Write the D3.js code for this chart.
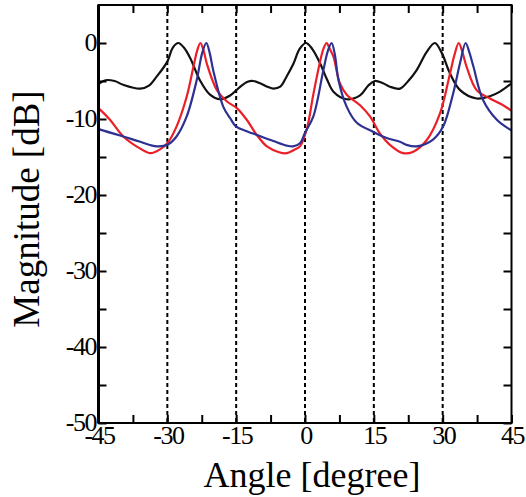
<!DOCTYPE html>
<html><head><meta charset="utf-8">
<script src="https://cdn.jsdelivr.net/npm/d3@7"></script>
<style>
@font-face{font-family:"ChartSerif";src:local("Liberation Serif"),local("LiberationSerif"),local("LiberationSerif-Regular");}
body{margin:0}
</style>
</head><body>
<svg id="c" width="526" height="497" style="font-family:'Liberation Serif', ChartSerif, monospace"></svg>
<script>
// Data (angle [degree], magnitude [dB])
const blackAngles = [-45,-43.5,-41.5,-39.6,-35.9,-34,-32.3,-30,-28.8,-27.6,-26.4,-25,-22.9,-20.7,-18.5,-16.3,-14.2,-12.5,-11.3,-9.8,-8,-6.9,-5.4,-4,-2.5,-1.2,0.2,1.6,3.3,4.8,6.2,9.1,12,13.8,15.2,17,18.5,20.7,22.5,24.3,26.5,28.3,29.8,31.6,33.8,37.4,40.3,42.5,45];
const blackValues = [-5.4,-4.9,-5.0,-5.5,-6.0,-5.6,-4.4,-2.45,-0.6,0,-0.6,-2.0,-4.9,-6.8,-7.4,-6.9,-5.8,-5.1,-5.0,-5.3,-5.8,-6.0,-5.75,-4.4,-2.7,-0.8,0,-0.8,-2.7,-4.8,-6.4,-7.4,-6.9,-5.6,-5.0,-5.3,-5.75,-6.0,-5.0,-3.6,-1.2,0,-1.3,-4.0,-6.2,-7.3,-7.0,-6.4,-5.3];

const redAngles = [-45,-44.6,-42.5,-39.6,-35.9,-33.7,-31.6,-30,-28,-25.8,-24.3,-23.5,-22.8,-22.1,-21.4,-19.2,-17,-14.8,-12.7,-10.5,-8.3,-5.5,-4,-2.5,-1.1,0.4,1.8,3.3,4.0,4.7,5.4,6.2,7.6,9.1,12,14.2,16.3,18.5,21.4,23.6,26.5,29.4,31.6,32.6,33.5,34.3,35.2,37.4,40.3,42.6,45];
const redValues = [-8.6,-8.8,-10.1,-12.3,-13.9,-14.5,-14.0,-13.2,-11.0,-7.1,-3.1,-1.0,0,-1.0,-2.7,-6.2,-7.7,-8.6,-10.1,-12.1,-13.6,-14.4,-14.5,-14.1,-13.6,-11.3,-6.8,-2.4,-0.8,0,-0.8,-1.8,-5.3,-6.8,-8.2,-9.7,-11.9,-13.4,-14.5,-14.3,-12.8,-9.3,-4.0,-1.5,0,-1.2,-3.1,-6.2,-7.3,-8.0,-8.9];

const blueAngles = [-45,-44.6,-39.6,-35.9,-32.3,-30,-28,-25.8,-23.6,-22.4,-21.5,-20.7,-20,-17.8,-16.3,-15,-12.7,-10.5,-6.9,-4,-2.6,-1.1,0,1.8,4.0,5.0,5.8,6.5,7.3,9.1,11.3,14.9,17.8,20.7,22.1,24.3,27.9,30.1,32.3,33.8,35,35.8,36.7,38.8,41.8,44.7,45];
const blueValues = [-11.3,-11.4,-12.3,-13.0,-13.6,-13.4,-12.3,-9.7,-4.9,-1.3,0,-1.5,-3.6,-8.4,-9.9,-11.0,-11.6,-12.1,-12.9,-13.5,-13.6,-13.2,-11.8,-9.7,-3.6,-1.0,0,-1.5,-4.9,-8.4,-10.5,-11.7,-12.5,-13.0,-13.4,-13.6,-12.7,-11.0,-6.6,-2.6,0,-1.2,-3.1,-7.5,-10.1,-11.4,-11.5];

const xTicks = [-45,-30,-15,0,15,30,45];
const xMinor = [-37.5,-22.5,-7.5,7.5,22.5,37.5];
const yTicks = [0,-10,-20,-30,-40,-50];
const yMinor = [-5,-15,-25,-35,-45];
const gridAngles = [-30,-15,0,15,30];
const xLabel = "Angle [degree]";
const yLabel = "Magnitude [dB]";

const svg = d3.select("#c");
const L = 98.5, R = 511.5, T = 5, B = 423;
const x = d3.scaleLinear().domain([-45,45]).range([L,R]);
const y = d3.scaleLinear().domain([-50,5]).range([B,T]);
const FONT = '"Liberation Serif", ChartSerif, monospace';

// dashed verticals
svg.append("g").selectAll("line").data(gridAngles).join("line")
  .attr("x1",d=>x(d)).attr("x2",d=>x(d)).attr("y1",T).attr("y2",B)
  .attr("stroke","#000").attr("stroke-width",2).attr("stroke-dasharray","4,3");

// curves
const line = (xs,vs) => d3.line().curve(d3.curveCatmullRom.alpha(0.5))
  .x((d,i)=>x(xs[i])).y((d,i)=>y(vs[i]))(xs);
svg.append("clipPath").attr("id","pc").append("rect")
  .attr("x",L).attr("y",T).attr("width",R-L).attr("height",B-T);
const cg = svg.append("g").attr("clip-path","url(#pc)");
cg.append("path").attr("d",line(blackAngles,blackValues)).attr("fill","none").attr("stroke","#111").attr("stroke-width",2.2);
cg.append("path").attr("d",line(redAngles,redValues)).attr("fill","none").attr("stroke","#ec1f27").attr("stroke-width",2.2);
cg.append("path").attr("d",line(blueAngles,blueValues)).attr("fill","none").attr("stroke","#2d3192").attr("stroke-width",2.2);

// axes (ticks inward)
const tl = 8;
const axB = d3.axisTop(x).tickValues(xTicks.concat(xMinor)).tickSize(tl).tickFormat("");
const axT = d3.axisBottom(x).tickValues(xTicks.concat(xMinor)).tickSize(tl).tickFormat("");
const axL = d3.axisRight(y).tickValues(yTicks.concat(yMinor)).tickSize(tl).tickFormat("");
const axR = d3.axisLeft(y).tickValues(yTicks.concat(yMinor)).tickSize(tl).tickFormat("");
[[axB,`translate(0,${B})`],[axT,`translate(0,${T})`],[axL,`translate(${L},0)`],[axR,`translate(${R},0)`]].forEach(([a,t])=>{
  const g = svg.append("g").attr("transform",t).call(a);
  g.select(".domain").remove();
  g.attr("font-family",null);
  g.selectAll(".tick line").attr("stroke","#000").attr("stroke-width",2);
  g.selectAll(".tick text").remove();
});
// frame
svg.append("rect").attr("x",L).attr("y",T).attr("width",R-L).attr("height",B-T)
  .attr("fill","none").attr("stroke","#000").attr("stroke-width",2);
svg.append("line").attr("x1",L).attr("x2",L).attr("y1",T).attr("y2",B).attr("stroke","#000").attr("stroke-width",3);

// tick labels
svg.append("g").selectAll("text").data(yTicks).join("text")
  .attr("x",96).attr("y",d=>y(d)+8).attr("text-anchor","end")
  .attr("font-size",26).attr("letter-spacing",-1.5)
  .style("font-family",FONT)
  .text(d=>d);
svg.append("g").selectAll("text").data(xTicks).join("text")
  .attr("x",d=>x(d)+1).attr("y",444).attr("text-anchor","middle")
  .attr("font-size",26).attr("letter-spacing",-1.5)
  .style("font-family",FONT)
  .text(d=>d);

// titles
svg.append("text").attr("x",312).attr("y",487).attr("text-anchor","middle")
  .attr("font-size",36).style("font-family",FONT).text(xLabel);
svg.append("text").attr("transform","translate(39,209) rotate(-90)").attr("text-anchor","middle")
  .attr("font-size",37).style("font-family",FONT).text(yLabel);
</script>
</body></html>
